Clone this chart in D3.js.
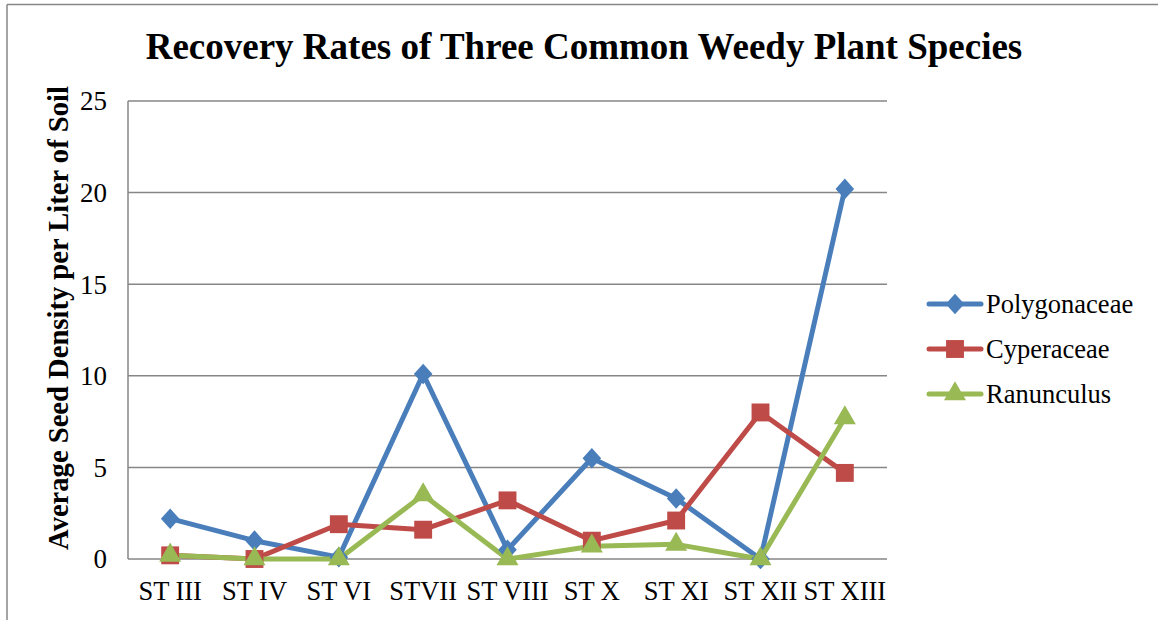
<!DOCTYPE html>
<html><head><meta charset="utf-8">
<script src="https://cdn.jsdelivr.net/npm/d3@7"></script>
<style>
html,body{margin:0;padding:0;background:#fff;}
svg{display:block;font-family:"Liberation Serif","Times New Roman",serif;}
</style></head>
<body>
<svg id="chart" width="1158" height="620"></svg>
<script>
const categories = ["ST III","ST IV","ST VI","STVII","ST VIII","ST X","ST XI","ST XII","ST XIII"];
const polygonaceae = [2.2, 1.0, 0.1, 10.1, 0.5, 5.5, 3.3, 0.0, 20.2];
const cyperaceae   = [0.2, 0.0, 1.9, 1.6, 3.2, 1.0, 2.1, 8.0, 4.7];
const ranunculus   = [0.2, 0.0, 0.0, 3.5, 0.0, 0.7, 0.8, 0.0, 7.7];
const seriesNames  = ["Polygonaceae","Cyperaceae","Ranunculus"];
const yTicks = [0,5,10,15,20,25];

// diamond slightly taller than wide, like the reference markers
const diamond = {draw(ctx, size){ const h = Math.sqrt(size)/1.3, w = h*0.9;
  ctx.moveTo(0,-h); ctx.lineTo(w,0); ctx.lineTo(0,h); ctx.lineTo(-w,0); ctx.closePath(); }};

const series = [
  {name: seriesNames[0], values: polygonaceae, color: "#4A7EBB", symbol: diamond,          size: 180},
  {name: seriesNames[1], values: cyperaceae,   color: "#BE4B48", symbol: d3.symbolSquare,  size: 320},
  {name: seriesNames[2], values: ranunculus,   color: "#98B954", symbol: d3.symbolTriangle, size: 210}
];

const svg = d3.select("#chart");
const m = {left:128, top:101, right:887, bottom:559};

// outer frame (top and left border)
svg.append("line").attr("x1",7).attr("x2",1158).attr("y1",4.5).attr("y2",4.5).attr("stroke","#868686").attr("stroke-width",1.5);
svg.append("line").attr("x1",7).attr("x2",7).attr("y1",4.5).attr("y2",620).attr("stroke","#868686").attr("stroke-width",1.5);

const x = d3.scaleBand().domain(categories).range([m.left, m.right]);
const y = d3.scaleLinear().domain([0,25]).range([m.bottom, m.top]);

// gridlines
svg.append("g").selectAll("line").data(yTicks).join("line")
  .attr("x1", m.left).attr("x2", m.right)
  .attr("y1", d=>y(d)).attr("y2", d=>y(d))
  .attr("stroke","#868686").attr("stroke-width",1.5);

// y axis line
svg.append("line").attr("x1",m.left).attr("x2",m.left).attr("y1",m.top).attr("y2",m.bottom)
  .attr("stroke","#868686").attr("stroke-width",1.5);

// y axis
const yAxis = d3.axisLeft(y).tickValues(yTicks).tickSize(0).tickPadding(21);
const gy = svg.append("g").attr("transform",`translate(${m.left},0)`).call(yAxis);
gy.select(".domain").remove();
gy.selectAll("text").attr("font-family","Liberation Serif").attr("font-size",27).attr("fill","#000").attr("dy","0.33em");

// x axis
const xAxis = d3.axisBottom(x).tickSize(0).tickPadding(22);
const gx = svg.append("g").attr("transform",`translate(0,${m.bottom})`).call(xAxis);
gx.select(".domain").remove();
gx.selectAll("text").attr("font-family","Liberation Serif").attr("font-size",26.5).attr("fill","#000");

// lines
const line = d3.line().x((d,i)=>x(categories[i])+x.bandwidth()/2).y(d=>y(d));
series.forEach(s=>{
  svg.append("path").datum(s.values).attr("d",line)
    .attr("fill","none").attr("stroke",s.color).attr("stroke-width",5).attr("stroke-linejoin","round");
});
series.forEach(s=>{
  svg.append("g").selectAll("path").data(s.values).join("path")
    .attr("d", d3.symbol().type(s.symbol).size(s.size))
    .attr("transform",(d,i)=>`translate(${x(categories[i])+x.bandwidth()/2},${y(d)})`)
    .attr("fill",s.color);
});

// title
svg.append("text").attr("x",584).attr("y",59).attr("text-anchor","middle")
  .attr("font-size",37).attr("font-weight","bold").text("Recovery Rates of Three Common Weedy Plant Species");

// y title
svg.append("text").attr("transform","translate(68,318) rotate(-90)").attr("text-anchor","middle")
  .attr("font-size",28.6).attr("font-weight","bold").text("Average Seed Density per Liter of Soil");

// legend
const lg = svg.append("g");
series.forEach((s,i)=>{
  const cy = 304 + i*45;
  lg.append("line").attr("x1",929).attr("x2",981).attr("y1",cy).attr("y2",cy)
    .attr("stroke",s.color).attr("stroke-width",5).attr("stroke-linecap","round");
  lg.append("path").attr("d", d3.symbol().type(s.symbol).size(s.size))
    .attr("transform",`translate(955,${cy})`).attr("fill",s.color);
  lg.append("text").attr("x",986).attr("y",cy).attr("dy","0.33em").attr("font-size",26.5).text(s.name);
});
</script>
</body></html>
